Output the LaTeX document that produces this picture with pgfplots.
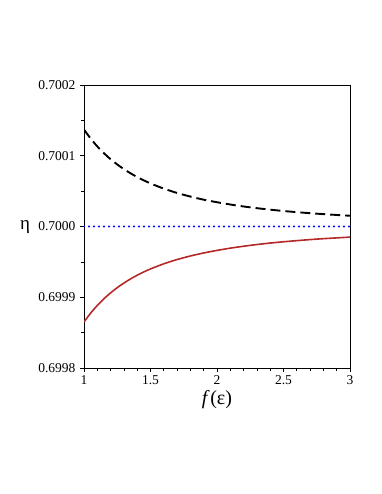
\documentclass[border=0pt]{standalone}
\usepackage{pgfplots}
\pgfplotsset{compat=1.18}
\usepackage{fontspec}
\setmainfont{Liberation Serif}
\definecolor{maplered}{RGB}{180,40,40}
\begin{document}
\begin{tikzpicture}
\useasboundingbox (0,0) rectangle (382bp,494bp);
\begin{axis}[
  at={(84bp,126bp)}, anchor=south west,
  scale only axis, width=266bp, height=283bp,
  xmin=1, xmax=3, ymin=0.6998, ymax=0.7002,
  xtick={1,1.5,2,2.5,3},
  xticklabels={1,1.5,2,2.5,3},
  ytick={0.6998,0.6999,0.7,0.7001,0.7002},
  yticklabels={0.6998,0.6999,0.7000,0.7001,0.7002},
  scaled y ticks=false, scaled x ticks=false,
  minor x tick num=4, minor y tick num=1,
  xtick pos=bottom, ytick pos=left,
  tick align=outside,
  major tick length=4bp, minor tick length=3bp,
  tick style={black, line width=0.7pt},
  axis line style={line width=0.9pt},
  tick label style={font=\fontsize{13.5bp}{15bp}\selectfont},
  yticklabel style={xshift=-1bp},
  /pgf/number format/assume math mode=true,
  xlabel={\textit{f}\kern0.5bp(ε)},
  xlabel style={font=\fontsize{20bp}{22bp}\selectfont, at={(axis description cs:0.5,0)}, anchor=north, yshift=-19bp},
  ylabel={η},
  ylabel style={font=\fontsize{19bp}{20bp}\selectfont, rotate=-90, at={(axis description cs:0,0.5)}, anchor=center, xshift=-59bp, yshift=-1bp},
]
\addplot[black, line width=1.9pt, dash pattern=on 10bp off 5bp, smooth] coordinates {
(1.0,0.7001370) (1.05,0.7001243) (1.1,0.7001132) (1.15,0.7001036) (1.2,0.7000951) (1.25,0.7000877) (1.3,0.7000811) (1.35,0.7000752) (1.4,0.7000699)
(1.45,0.7000652) (1.5,0.7000609) (1.6,0.7000535) (1.7,0.7000474) (1.8,0.7000423) (1.9,0.7000379)
(2.0,0.7000343) (2.1,0.7000311) (2.2,0.7000283) (2.3,0.7000259) (2.4,0.7000238)
(2.5,0.7000219) (2.6,0.7000203) (2.7,0.7000188) (2.8,0.7000175) (2.9,0.7000163)
(3.0,0.7000152)};
\addplot[blue, line width=2.4pt, dash pattern=on 0pt off 5bp, line cap=round] coordinates {
(1.0,0.7000) (3.0,0.7000)};
\addplot[maplered, line width=1.6pt, smooth] coordinates {
(1.0,0.6998650) (1.05,0.6998776) (1.1,0.6998884) (1.15,0.6998979) (1.2,0.6999062) (1.25,0.6999136) (1.3,0.6999201) (1.35,0.6999259) (1.4,0.6999311)
(1.45,0.6999358) (1.5,0.6999400) (1.6,0.6999473) (1.7,0.6999533) (1.8,0.6999583) (1.9,0.6999626)
(2.0,0.6999662) (2.1,0.6999694) (2.2,0.6999721) (2.3,0.6999745) (2.4,0.6999766)
(2.5,0.6999784) (2.6,0.6999800) (2.7,0.6999815) (2.8,0.6999828) (2.9,0.6999839)
(3.0,0.6999850)};
\end{axis}
\end{tikzpicture}
\end{document}
